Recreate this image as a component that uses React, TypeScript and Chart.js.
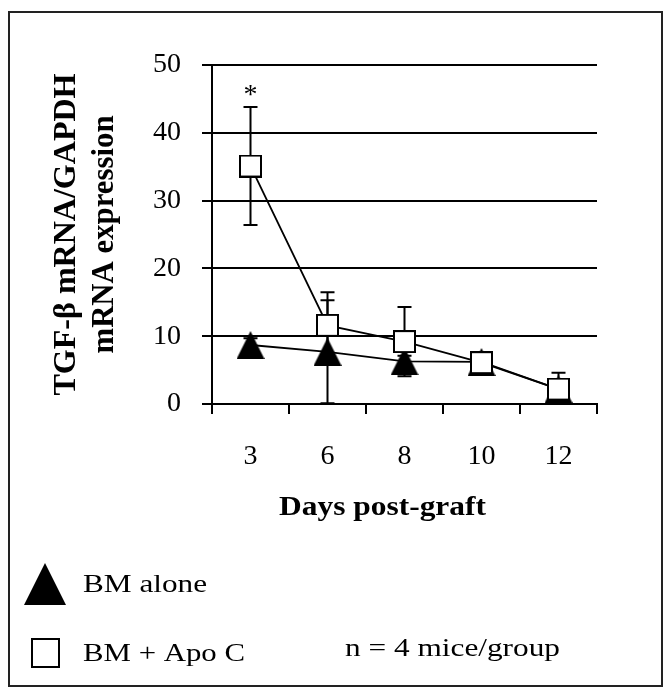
import React, { useEffect, useRef } from "react";
import { Chart, registerables } from "chart.js";

Chart.register(...registerables);

// ---- data ----
const days = ["3", "6", "8", "10", "12"];
const bmAlone = [8.7, 7.7, 6.3, 6.2, 2.2];
const bmAloneErr = [1.0, 7.6, 0.8, 0.8, 0.5];
const bmApoC = [35.1, 11.6, 9.2, 6.1, 2.2];
const bmApoCErr = [8.7, 4.9, 5.1, 1.0, 2.4];
const significance = ["*", "", "", "", ""];
const yMin = 0;
const yMax = 50;
const yStep = 10;
const yTitleLines = ["TGF-β mRNA/GAPDH", "mRNA expression"];
const xTitle = "Days post-graft";
const legendLabels = ["BM alone", "BM + Apo C"];
const noteText = "n = 4 mice/group";

const SERIF = "'Liberation Serif', 'Times New Roman', serif";

function makeTriangle(size: number): HTMLCanvasElement {
  const c = document.createElement("canvas");
  c.width = size;
  c.height = size;
  const g = c.getContext("2d")!;
  g.fillStyle = "#000";
  g.beginPath();
  g.moveTo(size / 2, 0);
  g.lineTo(size, size);
  g.lineTo(0, size);
  g.closePath();
  g.fill();
  return c;
}

function makeSquare(size: number): HTMLCanvasElement {
  const c = document.createElement("canvas");
  c.width = size;
  c.height = size;
  const g = c.getContext("2d")!;
  g.fillStyle = "#fff";
  g.fillRect(0, 0, size, size);
  g.strokeStyle = "#000";
  g.lineWidth = 2;
  g.strokeRect(1, 1, size - 2, size - 2);
  return c;
}

function stretchText(
  ctx: CanvasRenderingContext2D,
  text: string,
  x: number,
  y: number,
  font: string,
  targetW: number,
  align: CanvasTextAlign,
  rotate = 0
) {
  ctx.save();
  ctx.font = font;
  const w = ctx.measureText(text).width;
  const s = targetW / w;
  ctx.translate(x, y);
  if (rotate) ctx.rotate(rotate);
  ctx.scale(s, 1);
  ctx.textAlign = align;
  ctx.textBaseline = "alphabetic";
  ctx.fillStyle = "#000";
  ctx.fillText(text, 0, 0);
  ctx.restore();
}

const errorBarPlugin = {
  id: "errorBars",
  beforeDatasetsDraw(chart: any) {
    const ctx = chart.ctx as CanvasRenderingContext2D;
    const xs = chart.scales.x;
    const ys = chart.scales.y;
    const sets = [
      { v: bmAlone, e: bmAloneErr },
      { v: bmApoC, e: bmApoCErr },
    ];
    ctx.save();
    ctx.strokeStyle = "#000";
    ctx.lineWidth = 2;
    const cap = 7;
    sets.forEach((s) => {
      s.v.forEach((v, i) => {
        const x = xs.getPixelForValue(i);
        const yt = ys.getPixelForValue(v + s.e[i]);
        const yb = ys.getPixelForValue(Math.max(yMin, v - s.e[i]));
        ctx.beginPath();
        ctx.moveTo(x, yt);
        ctx.lineTo(x, yb);
        ctx.moveTo(x - cap, yt);
        ctx.lineTo(x + cap, yt);
        ctx.moveTo(x - cap, yb);
        ctx.lineTo(x + cap, yb);
        ctx.stroke();
      });
    });
    ctx.restore();
  },
};

const decorPlugin = {
  id: "decor",
  afterDraw(chart: any) {
    const ctx = chart.ctx as CanvasRenderingContext2D;
    const xs = chart.scales.x;
    const ys = chart.scales.y;
    const area = chart.chartArea;

    // significance markers
    ctx.save();
    ctx.font = `28px ${SERIF}`;
    ctx.fillStyle = "#000";
    ctx.textAlign = "center";
    ctx.textBaseline = "alphabetic";
    significance.forEach((m, i) => {
      if (!m) return;
      const top = ys.getPixelForValue(bmApoC[i] + bmApoCErr[i]);
      const center = top - 17;
      const mt = ctx.measureText(m);
      const base = center - (mt.actualBoundingBoxDescent - mt.actualBoundingBoxAscent) / 2;
      ctx.fillText(m, xs.getPixelForValue(i), base);
    });
    ctx.restore();

    // y title (two rotated lines)
    const midY = (area.top + area.bottom) / 2;
    stretchText(ctx, yTitleLines[0], 75, midY, `bold 32px ${SERIF}`, 322, "center", -Math.PI / 2);
    stretchText(ctx, yTitleLines[1], 113, midY, `bold 32px ${SERIF}`, 238, "center", -Math.PI / 2);

    // x title
    stretchText(ctx, xTitle, 382.5, 515, `bold 28px ${SERIF}`, 207, "center");

    // legend
    ctx.save();
    ctx.fillStyle = "#000";
    ctx.beginPath();
    ctx.moveTo(45, 563);
    ctx.lineTo(66, 605);
    ctx.lineTo(24, 605);
    ctx.closePath();
    ctx.fill();
    ctx.fillStyle = "#fff";
    ctx.fillRect(32, 639, 27, 28);
    ctx.strokeStyle = "#000";
    ctx.lineWidth = 2;
    ctx.strokeRect(32, 639, 27, 28);
    ctx.restore();
    stretchText(ctx, legendLabels[0], 83, 592, `26px ${SERIF}`, 124, "left");
    stretchText(ctx, legendLabels[1], 83, 661, `26px ${SERIF}`, 162, "left");
    stretchText(ctx, noteText, 345, 656, `26px ${SERIF}`, 215, "left");

    // outer frame
    ctx.save();
    ctx.strokeStyle = "#222";
    ctx.lineWidth = 2;
    ctx.strokeRect(9, 12, 653, 674);
    ctx.restore();
  },
};

export default function App() {
  const ref = useRef<HTMLCanvasElement | null>(null);

  useEffect(() => {
    document.body.style.margin = "0";
    const canvas = ref.current!;
    const tri = makeTriangle(28);
    const sq = makeSquare(23);

    const chart = new Chart(canvas, {
      type: "line",
      data: {
        labels: days,
        datasets: [
          {
            label: legendLabels[1],
            data: bmApoC,
            borderColor: "#000",
            borderWidth: 1.8,
            pointStyle: sq as any,
            pointRadius: 11,
            clip: false as any,
          },
          {
            label: legendLabels[0],
            data: bmAlone,
            borderColor: "#000",
            borderWidth: 1.8,
            pointStyle: tri as any,
            pointRadius: 14,
            clip: false as any,
          },
        ],
      },
      options: {
        responsive: false,
        animation: false,
        events: [],
        layout: { padding: { left: 0, right: 71, top: 65, bottom: 0 } },
        plugins: {
          legend: { display: false },
          tooltip: { enabled: false },
        },
        scales: {
          x: {
            type: "category",
            offset: true,
            grid: {
              display: true,
              offset: true,
              drawOnChartArea: false,
              drawTicks: true,
              tickLength: 10,
              color: "#000",
              lineWidth: 2,
            },
            border: { display: true, color: "#000", width: 2 },
            ticks: {
              color: "#000",
              font: { family: SERIF, size: 28 },
              padding: 26,
              maxRotation: 0,
            },
            afterFit: (s: any) => {
              s.height = 291;
            },
          },
          y: {
            min: yMin,
            max: yMax,
            ticks: {
              stepSize: yStep,
              color: "#000",
              font: { family: SERIF, size: 28 },
              padding: 21,
            },
            grid: {
              display: true,
              drawTicks: true,
              tickLength: 10,
              color: "#000",
              lineWidth: 2,
            },
            border: { display: true, color: "#000", width: 2 },
            afterFit: (s: any) => {
              s.width = 212;
            },
          },
        },
      },
      plugins: [errorBarPlugin, decorPlugin],
    });

    return () => chart.destroy();
  }, []);

  return <canvas ref={ref} width={668} height={695} style={{ display: "block" }} />;
}
